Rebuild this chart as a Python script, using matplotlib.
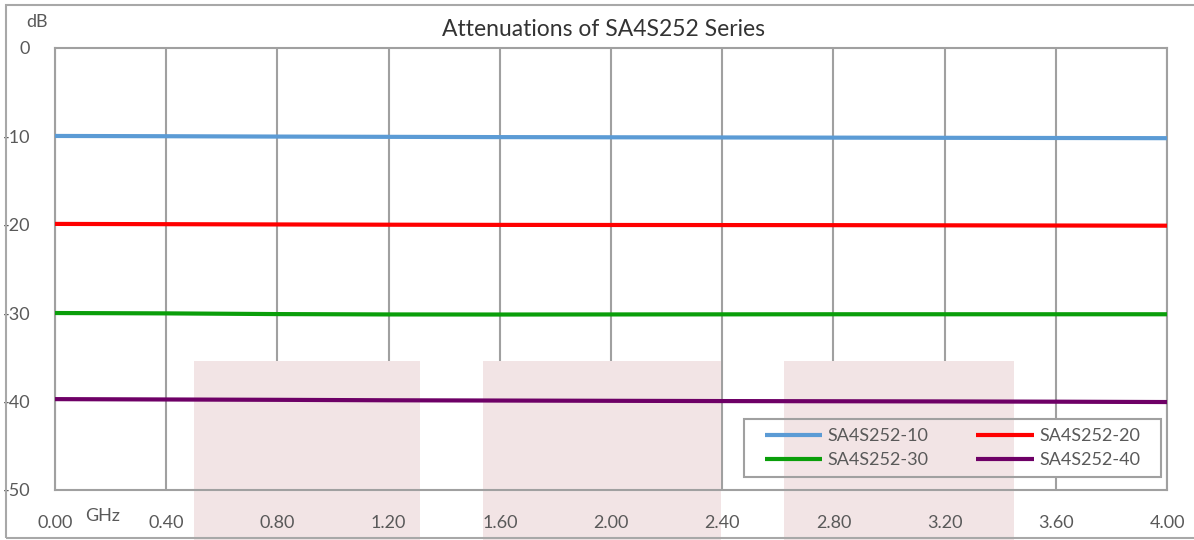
import matplotlib
matplotlib.use("Agg")
import matplotlib.pyplot as plt
from matplotlib.patches import Rectangle

# frequency points (GHz) and attenuation readings (dB)
freq = [0.0, 0.4, 0.8, 1.2, 1.6, 2.0, 2.4, 2.8, 3.2, 3.6, 4.0]
sa10 = [-9.95, -9.98, -10.02, -10.05, -10.08, -10.10, -10.12, -10.14, -10.16, -10.18, -10.20]
sa20 = [-19.90, -19.93, -19.96, -19.99, -20.01, -20.02, -20.03, -20.04, -20.06, -20.08, -20.10]
sa30 = [-29.98, -30.02, -30.10, -30.14, -30.15, -30.14, -30.13, -30.12, -30.12, -30.12, -30.12]
sa40 = [-39.72, -39.76, -39.80, -39.85, -39.88, -39.91, -39.94, -39.96, -39.98, -40.01, -40.05]

series = [
    ("SA4S252-10", sa10, "#5b9bd5"),
    ("SA4S252-20", sa20, "#ff0000"),
    ("SA4S252-30", sa30, "#0a9e0a"),
    ("SA4S252-40", sa40, "#6e0066"),
]

xticks = [0.0, 0.4, 0.8, 1.2, 1.6, 2.0, 2.4, 2.8, 3.2, 3.6, 4.0]
yticks = [0, -10, -20, -30, -40, -50]

plt.rcParams['font.family'] = ['Lato', 'DejaVu Sans']
plt.rcParams['axes.unicode_minus'] = False
grey = "#a0a0a0"
txt = "#595959"
pink = "#f2e4e5"

fig = plt.figure(figsize=(11.94, 5.40), dpi=100)
W, H = 1194, 540
pink_blocks = [(194, 420), (483, 721), (784, 1014)]   # pixel spans of the background blocks

# outer chart border
fig.patches.append(Rectangle((6 / W, 2 / H), 1.2, 1 - 7 / H, transform=fig.transFigure,
                             fill=False, edgecolor="#a8a8a8", linewidth=1.5, zorder=0))

ax = fig.add_axes([55 / W, 1 - 490 / H, (1167 - 55) / W, (490 - 48) / H])
ax.patch.set_alpha(0)

def pink_rects(z, clip=None):
    for x0, x1 in pink_blocks:
        r = Rectangle((x0 / W, 0), (x1 - x0) / W, 1 - 361 / H, transform=fig.transFigure,
                      facecolor=pink, edgecolor="none", zorder=z)
        if clip is None:
            r.set_clip_on(False)
        else:
            r.set_clip_path(clip)
        ax.add_artist(r)

pink_rects(0.2)

lines = {}
for name, vals, col in series:
    lines[name], = ax.plot(freq, vals, color=col, linewidth=3, label=name,
                           solid_capstyle='butt', zorder=3)

ax.set_xlim(0, 4.0)
ax.set_ylim(-50, 0)
ax.set_xticks(xticks)
ax.set_xticklabels([f"{v:.2f}" for v in xticks])
ax.set_yticks(yticks)
ax.set_yticklabels([str(v) for v in yticks])
ax.grid(True, axis='x', color=grey, linewidth=1.5)
ax.set_axisbelow(True)
ax.tick_params(length=0, labelsize=13, labelcolor=txt)
ax.tick_params(axis='x', pad=18)
ax.tick_params(axis='y', pad=18)
for sp in ax.spines.values():
    sp.set_color(grey)
    sp.set_linewidth(1.5)

fig.text(37 / W, 1 - 22 / H, "dB", fontsize=13, color=txt, ha='center', va='center')
fig.text(103 / W, 1 - 516 / H, "GHz", fontsize=13, color=txt, ha='center', va='center')
fig.text(604 / W, 1 - 30 / H, "Attenuations of SA4S252 Series", fontsize=16.5,
         color="#333333", ha='center', va='center')

# legend fills column-wise, so order handles to get rows 10/20 and 30/40
order = ["SA4S252-10", "SA4S252-30", "SA4S252-20", "SA4S252-40"]
leg = ax.legend([lines[n] for n in order], order, ncol=2, loc='lower right',
                bbox_to_anchor=(0.9865 - 3 / 1112, 0.029),
                frameon=False, fontsize=13,
                handlelength=3.2, handletextpad=0.3, columnspacing=2.6,
                borderpad=0.5, labelspacing=0.45, borderaxespad=0)
for t in leg.get_texts():
    t.set_color(txt)

# legend box: white background hiding the gridlines, pink showing through, grey edge
fig.canvas.draw()
bb = leg.get_window_extent().transformed(fig.transFigure.inverted())
padx = 12 / W
bg = Rectangle((bb.x0 - padx, bb.y0), bb.width + 2 * padx, bb.height,
               transform=fig.transFigure, facecolor="white", edgecolor="none", zorder=0.6)
bg.set_clip_on(False)
ax.add_artist(bg)
pink_rects(0.7, clip=bg)
edge = Rectangle((bb.x0 - padx, bb.y0), bb.width + 2 * padx, bb.height,
                 transform=fig.transFigure, facecolor="none", edgecolor=grey,
                 linewidth=1.5, zorder=0.8)
edge.set_clip_on(False)
ax.add_artist(edge)

fig.savefig("out.png", dpi=100)
